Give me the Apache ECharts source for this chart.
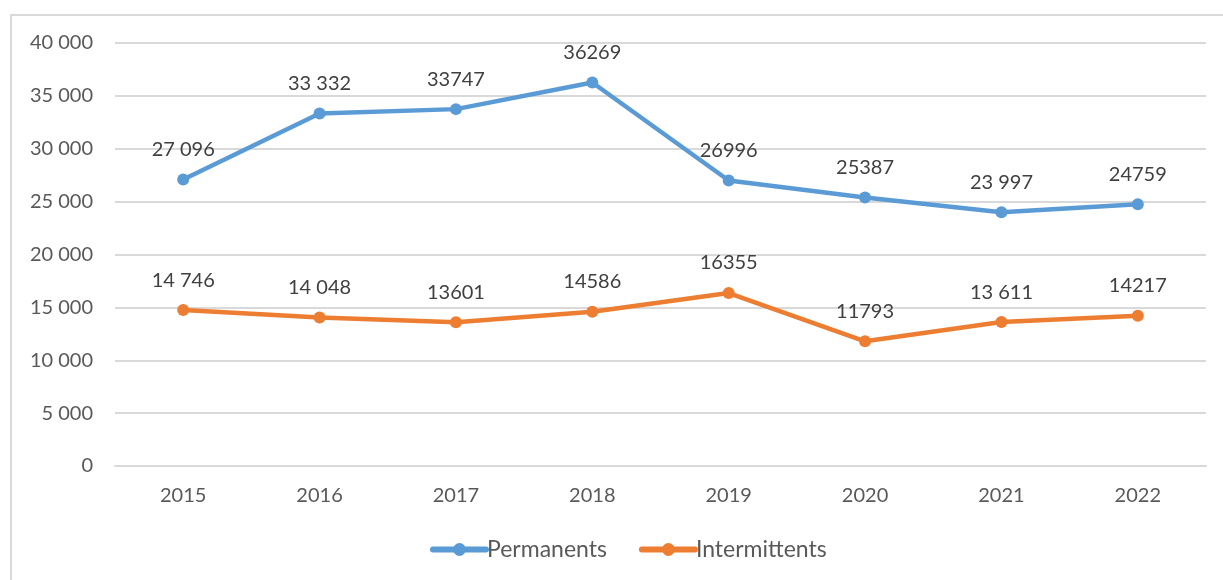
<!DOCTYPE html>
<html>
<head>
<meta charset="utf-8">
<script src="https://cdn.jsdelivr.net/npm/echarts@6/dist/echarts.min.js"></script>
<style>
  html, body { margin: 0; padding: 0; background: #fff; }
  #frame { position: absolute; left: 10px; top: 14px; width: 1230px; height: 580px; border: 2px solid #d9d9d9; box-sizing: border-box; }
  #main { position: absolute; left: 0; top: 0; width: 1223px; height: 580px; }
</style>
</head>
<body>
<div id="frame"></div>
<div id="main"></div>
<script>
// années
var years = ['2015', '2016', '2017', '2018', '2019', '2020', '2021', '2022'];
// valeurs
var permanents = [27096, 33332, 33747, 36269, 26996, 25387, 23997, 24759];
var intermittents = [14746, 14048, 13601, 14586, 16355, 11793, 13611, 14217];
// étiquettes telles qu'affichées
var permLabels = ['27 096', '33 332', '33747', '36269', '26996', '25387', '23 997', '24759'];
var interLabels = ['14 746', '14 048', '13601', '14586', '16355', '11793', '13 611', '14217'];

var font = 'Lato, "Open Sans", sans-serif';
var txt = '#595959';

function fmt(v) {
  return String(v).replace(/\B(?=(\d{3})+(?!\d))/g, ' ');
}

var myChart = echarts.init(document.getElementById('main'));
var option = {
  backgroundColor: 'transparent',
  animation: false,
  grid: { left: 115, right: 17, top: 43, bottom: 114, containLabel: false },
  legend: {
    bottom: 14,
    left: 425,
    itemWidth: 53,
    itemHeight: 16,
    itemGap: 32,
    lineStyle: { width: 6, cap: 'round' },
    textStyle: { color: txt, fontSize: 23, fontFamily: font, padding: [0, 0, 0, -4] },
    data: ['Permanents', 'Intermittents']
  },
  xAxis: {
    type: 'category',
    data: years,
    boundaryGap: true,
    axisLine: { lineStyle: { color: '#d9d9d9', width: 2 } },
    axisTick: { show: false },
    axisLabel: { color: txt, fontSize: 20, fontFamily: font, margin: 20 }
  },
  yAxis: {
    type: 'value',
    min: 0,
    max: 40000,
    interval: 5000,
    axisLine: { show: false },
    axisTick: { show: false },
    splitLine: { lineStyle: { color: '#d9d9d9', width: 2 } },
    axisLabel: { color: txt, fontSize: 20, fontFamily: font, margin: 22, formatter: fmt }
  },
  series: [
    {
      name: 'Permanents',
      type: 'line',
      data: permanents,
      color: '#5b9bd5',
      lineStyle: { width: 4.5 },
      symbol: 'circle',
      symbolSize: 12,
      label: {
        show: true, position: 'top', distance: 14,
        color: '#404040', fontSize: 20, fontFamily: font,
        formatter: function (p) { return permLabels[p.dataIndex]; }
      }
    },
    {
      name: 'Intermittents',
      type: 'line',
      data: intermittents,
      color: '#ed7d31',
      lineStyle: { width: 4.5 },
      symbol: 'circle',
      symbolSize: 12,
      label: {
        show: true, position: 'top', distance: 14,
        color: '#404040', fontSize: 20, fontFamily: font,
        formatter: function (p) { return interLabels[p.dataIndex]; }
      }
    }
  ]
};
myChart.setOption(option);
</script>
</body>
</html>
